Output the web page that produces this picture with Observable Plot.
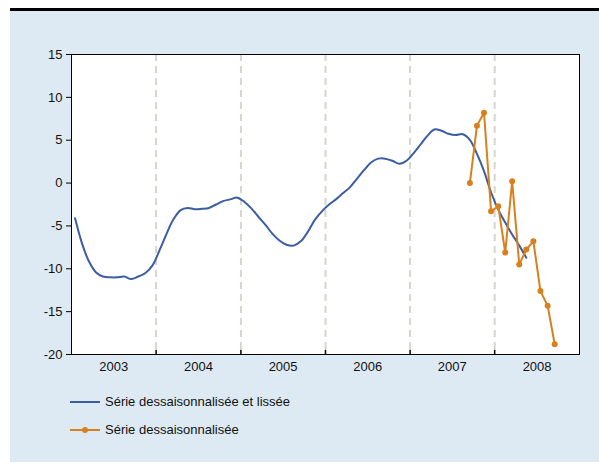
<!DOCTYPE html>
<html>
<head>
<meta charset="utf-8">
<script src="https://cdn.jsdelivr.net/npm/d3@7"></script>
<script src="https://cdn.jsdelivr.net/npm/@observablehq/plot@0.6"></script>
<style>
  body { margin: 0; background: #ffffff; font-family: "Liberation Sans", Arial, sans-serif; }
  #wrap { position: relative; width: 599px; height: 463px; overflow: hidden; }
  #topbar { position: absolute; left: 10px; top: 8px; width: 589px; height: 3px; background: #000; }
  #panel { position: absolute; left: 10px; top: 11px; width: 589px; height: 451px; background: #deeaf3; }
  #chart { position: absolute; left: 0; top: 0; }
  .leg { position: absolute; left: 70px; display: flex; align-items: center; font-size: 13px; color: #111; }
  .leg svg { margin-right: 5px; }
</style>
</head>
<body>
<div id="wrap">
  <div id="topbar"></div>
  <div id="panel"></div>
  <div id="chart"></div>
  <div class="leg" id="leg1" style="top:394px"></div>
  <div class="leg" id="leg2" style="top:422px"></div>
</div>
<script>
// ---- data ----
const seriesNames = ["Série dessaisonnalisée et lissée", "Série dessaisonnalisée"];
const smoothStart = [2003, 0]; // January 2003, monthly
const smoothValues = [
  -4.1, -7.0, -9.1, -10.4, -10.9, -11.0, -11.0, -10.9, -11.2, -10.9, -10.5, -9.6,
  -7.8, -5.9, -4.2, -3.15, -2.9, -3.05, -3.0, -2.9, -2.5, -2.1, -1.9, -1.7,
  -2.2, -2.95, -3.9, -4.85, -5.9, -6.7, -7.2, -7.3, -6.8, -5.7, -4.3, -3.3,
  -2.5, -1.9, -1.2, -0.5, 0.5, 1.5, 2.4, 2.85, 2.85, 2.6, 2.25, 2.6,
  3.5, 4.5, 5.5, 6.25, 6.1, 5.75, 5.6, 5.7, 5.05, 3.4, 1.4, -1.1,
  -3.1, -4.6, -6.0, -7.3, -8.7
];
const rawStart = [2007, 8]; // September 2007, monthly
const rawValues = [0.0, 6.7, 8.2, -3.3, -2.7, -8.1, 0.2, -9.5, -7.75, -6.8, -12.6, -14.3, -18.8];
const years = [2003, 2004, 2005, 2006, 2007, 2008];
const yTicks = [-20, -15, -10, -5, 0, 5, 10, 15];
const colors = ["#3a5da4", "#d9801e"];

// ---- build tables ----
const midMonth = (y, m) => new Date(Date.UTC(y, m, 1) + (Date.UTC(y, m + 1, 1) - Date.UTC(y, m, 1)) / 2);
const smooth = smoothValues.map((v, i) => ({date: midMonth(smoothStart[0], smoothStart[1] + i), value: v}));
const raw = rawValues.map((v, i) => ({date: midMonth(rawStart[0], rawStart[1] + i), value: v}));
const yearStart = y => new Date(Date.UTC(y, 0, 1));
const boundaries = years.slice(1).map(yearStart);
const yearMids = years.map(y => new Date(Date.UTC(y, 6, 2)));
const yMin = d3.min(yTicks), yMax = d3.max(yTicks);

const chart = Plot.plot({
  width: 599,
  height: 380,
  marginLeft: 71,
  marginRight: 20,
  marginTop: 54,
  marginBottom: 26,
  style: {background: "transparent", fontFamily: "'Liberation Sans', Arial, sans-serif", fontSize: "13px", color: "#111"},
  x: {type: "utc", domain: [yearStart(years[0]), yearStart(years[years.length - 1] + 1)]},
  y: {domain: [yMin, yMax]},
  marks: [
    Plot.frame({fill: "white", stroke: null}),
    Plot.ruleX(boundaries, {stroke: "#d6d6cc", strokeWidth: 2, strokeDasharray: "7,5"}),
    Plot.ruleX(boundaries, {y1: yMin, y2: yMin + 0.5, stroke: "#000", strokeWidth: 1.5}),
    Plot.line(smooth, {x: "date", y: "value", stroke: colors[0], strokeWidth: 2, curve: "catmull-rom"}),
    Plot.line(raw, {x: "date", y: "value", stroke: colors[1], strokeWidth: 2}),
    Plot.dot(raw, {x: "date", y: "value", fill: colors[1], r: 3}),
    Plot.frame({stroke: "#000", strokeWidth: 1}),
    Plot.axisY({ticks: yTicks, tickSize: 5, tickPadding: 4, tickFormat: d => String(d), label: null, stroke: "#000"}),
    Plot.axisX({ticks: yearMids, tickSize: 0, tickPadding: 7, tickFormat: d => String(d.getUTCFullYear()), label: null})
  ]
});
document.getElementById("chart").append(chart);

// ---- legend ----
function swatch(color, withDot) {
  const ns = "http://www.w3.org/2000/svg";
  const s = document.createElementNS(ns, "svg");
  s.setAttribute("width", 30); s.setAttribute("height", 10);
  const l = document.createElementNS(ns, "line");
  l.setAttribute("x1", 0); l.setAttribute("x2", 30); l.setAttribute("y1", 5); l.setAttribute("y2", 5);
  l.setAttribute("stroke", color); l.setAttribute("stroke-width", 2);
  s.append(l);
  if (withDot) {
    const c = document.createElementNS(ns, "circle");
    c.setAttribute("cx", 15); c.setAttribute("cy", 5); c.setAttribute("r", 3); c.setAttribute("fill", color);
    s.append(c);
  }
  return s;
}
const leg1 = document.getElementById("leg1");
leg1.append(swatch(colors[0], false), document.createTextNode(seriesNames[0]));
const leg2 = document.getElementById("leg2");
leg2.append(swatch(colors[1], true), document.createTextNode(seriesNames[1]));
</script>
</body>
</html>
